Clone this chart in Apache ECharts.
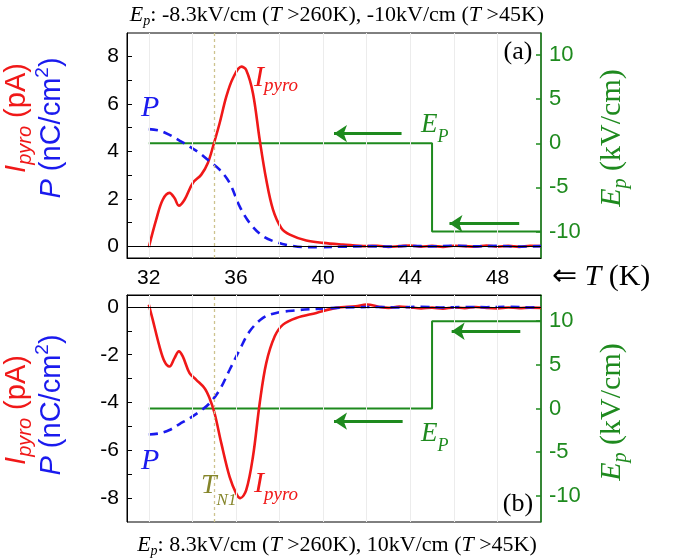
<!DOCTYPE html>
<html><head><meta charset="utf-8">
<script src="https://cdn.jsdelivr.net/npm/echarts@6/dist/echarts.min.js"></script>
<style>html,body{margin:0;padding:0;background:#fff}#c{width:675px;height:559px}</style>
</head><body><div id="c"></div>
<script>
// ---- data ----
const xI_a = [32, 32.34, 32.64, 32.95, 33.18, 33.38, 33.64, 34.02, 34.41, 34.71, 34.97, 35.25, 35.56, 35.86, 36.25, 36.47, 36.78, 37.09, 37.39, 37.7, 38.08, 38.47, 39.23, 40, 40.9, 42, 42.5, 43, 43.5, 44, 44.5, 45, 45.5, 46, 46.5, 47, 47.5, 48, 48.5, 49, 49.5, 50];
const yI_a = [-0.05, 1.12, 1.96, 2.25, 2.03, 1.71, 1.96, 2.67, 3.02, 3.51, 4.28, 5.19, 6.32, 7.09, 7.58, 7.44, 6.46, 4.49, 2.81, 1.54, 0.77, 0.49, 0.24, 0.14, 0.07, 0.0, 0.02, -0.03, 0.0, 0.03, -0.02, 0.01, -0.03, 0.02, 0.0, -0.02, 0.03, -0.02, 0.01, -0.03, 0.02, 0.0];
const xP_a = [32, 32.49, 32.95, 33.41, 33.87, 34.33, 34.79, 35.25, 35.71, 36.17, 36.63, 37.24, 37.85, 38.47, 39.2, 40, 41, 42, 43, 44, 45, 46, 47, 48, 49, 50];
const yP_a = [4.94, 4.88, 4.70, 4.46, 4.21, 3.93, 3.58, 3.23, 2.67, 1.68, 0.98, 0.42, 0.17, 0.03, -0.04, -0.04, -0.02, 0.0, -0.02, 0.01, -0.01, 0.02, -0.01, 0.01, -0.02, 0.0];
const xI_b = [32, 32.18, 32.49, 32.72, 32.95, 33.18, 33.38, 33.56, 33.87, 34.18, 34.56, 34.79, 35.02, 35.33, 35.71, 36.02, 36.2, 36.47, 36.78, 37.09, 37.39, 37.78, 38.16, 38.77, 39.69, 40.6, 41.5, 42, 42.6, 43, 43.5, 44, 44.5, 45, 45.5, 46, 46.5, 47, 47.5, 48, 48.5, 49, 49.5, 50];
const yI_b = [0.1, -0.53, -1.65, -2.28, -2.49, -2.14, -1.86, -2.07, -2.77, -3.05, -3.40, -3.82, -4.45, -5.71, -7.11, -7.82, -8.0, -7.67, -6.27, -4.03, -2.35, -1.23, -0.74, -0.46, -0.25, -0.04, 0.03, 0.1, 0.0, -0.04, 0.02, -0.02, -0.06, -0.03, -0.07, -0.02, -0.05, 0.0, -0.04, -0.06, -0.02, -0.05, -0.03, -0.04];
const xP_b = [32, 32.49, 32.95, 33.41, 33.87, 34.33, 34.79, 35.25, 35.71, 36.17, 36.63, 37.24, 37.85, 38.77, 39.69, 40.6, 41.5, 42.5, 43.5, 44.5, 45.5, 46.5, 47.5, 48.5, 49.5, 50];
const yP_b = [-5.34, -5.29, -5.15, -4.9, -4.66, -4.38, -4.03, -3.47, -2.63, -1.79, -1.02, -0.46, -0.25, -0.14, -0.08, -0.04, -0.01, 0.0, -0.02, 0.01, -0.02, 0.0, -0.01, 0.01, -0.02, 0.0];
const epX = [32, 45, 45, 50];
const epTop = [0, 0, -10, -10];
const epBot = [0, 0, 10, 10];
const tN1 = 35;
// arrows: [tipX, tailX, Ep]
const arrowsTop = [[40.5, 43.6, 1.1], [45.8, 49.0, -9.1]];
const arrowsBot = [[40.5, 43.65, -1.45], [45.9, 49.05, 8.85]];
const xLabels = [32, 36, 40, 44, 48];
const xTicks = [32, 34, 36, 38, 40, 42, 44, 46, 48];
const gridX = [32, 34, 36, 38, 40, 42, 44, 46, 48];
const leftLabTop = [0, 2, 4, 6, 8];
const leftTickTop = [0, 1, 2, 3, 4, 5, 6, 7, 8];
const leftLabBot = [-8, -6, -4, -2, 0];
const leftTickBot = [-8, -7, -6, -5, -4, -3, -2, -1, 0];
const rightLab = [-10, -5, 0, 5, 10];

const RED = '#f01818', BLUE = '#1a1aee', GREEN = '#1e8a1e', OLIVE = '#85852a', TAN = '#cdc38e';
const SANS = '"Liberation Sans", Arial, sans-serif';
const SERIF = '"Liberation Serif", "Times New Roman", serif';

const zip = (xs, ys) => xs.map((x, i) => [x, ys[i]]);

// text layout helper
const mctx = document.createElement('canvas').getContext('2d');
function tw(font, t) { mctx.font = font; return mctx.measureText(t).width; }
function run(parts, x, y, align, rot) {
  const ws = parts.map(p => tw(p.font, p.t));
  const total = ws.reduce((a, b) => a + b, 0);
  let adv = align === 'center' ? -total / 2 : 0;
  const els = [];
  parts.forEach((p, i) => {
    const dy = p.dy || 0;
    els.push({
      type: 'text', silent: true, z: 100,
      x: rot ? x + dy : x + adv,
      y: rot ? y - adv : y + dy,
      rotation: rot ? Math.PI / 2 : 0,
      style: { text: p.t, font: p.font, fill: p.color, align: 'left', verticalAlign: 'middle' }
    });
    adv += ws[i];
  });
  return els;
}
const f = (style, size, fam) => style + ' ' + size + 'px ' + fam;

const graphics = [].concat(
  // titles
  run([
    { t: 'E', font: f('italic', 22, SERIF), color: '#000' },
    { t: 'p', font: f('italic', 14, SERIF), color: '#000', dy: 6 },
    { t: ': -8.3kV/cm (', font: f('normal', 22, SERIF), color: '#000' },
    { t: 'T', font: f('italic', 22, SERIF), color: '#000' },
    { t: ' >260K), -10kV/cm (', font: f('normal', 22, SERIF), color: '#000' },
    { t: 'T', font: f('italic', 22, SERIF), color: '#000' },
    { t: ' >45K)', font: f('normal', 22, SERIF), color: '#000' }
  ], 337, 15, 'center', false),
  run([
    { t: 'E', font: f('italic', 22, SERIF), color: '#000' },
    { t: 'p', font: f('italic', 14, SERIF), color: '#000', dy: 6 },
    { t: ': 8.3kV/cm (', font: f('normal', 22, SERIF), color: '#000' },
    { t: 'T', font: f('italic', 22, SERIF), color: '#000' },
    { t: ' >260K), 10kV/cm (', font: f('normal', 22, SERIF), color: '#000' },
    { t: 'T', font: f('italic', 22, SERIF), color: '#000' },
    { t: ' >45K)', font: f('normal', 22, SERIF), color: '#000' }
  ], 337, 545, 'center', false),
  // panel tags
  run([{ t: '(a)', font: f('normal', 26, SERIF), color: '#000' }], 518, 52, 'center', false),
  run([{ t: '(b)', font: f('normal', 26, SERIF), color: '#000' }], 518, 504, 'center', false),
  // T (K)
  run([
    { t: '\u21D0 ', font: f('normal', 30, SERIF), color: '#000' },
    { t: 'T', font: f('italic', 30, SERIF), color: '#000' },
    { t: ' (K)', font: f('normal', 30, SERIF), color: '#000' }
  ], 552, 277, 'left', false),
  // curve labels top
  run([{ t: 'P', font: f('italic', 30, SERIF), color: BLUE }], 141, 108, 'left', false),
  run([
    { t: 'I', font: f('italic', 30, SERIF), color: RED },
    { t: 'pyro', font: f('italic', 19, SERIF), color: RED, dy: 8 }
  ], 254, 78, 'left', false),
  run([
    { t: 'E', font: f('italic', 27, SERIF), color: GREEN },
    { t: 'P', font: f('italic', 18, SERIF), color: GREEN, dy: 12 }
  ], 421, 125, 'left', false),
  // curve labels bottom
  run([{ t: 'P', font: f('italic', 30, SERIF), color: BLUE }], 141, 461, 'left', false),
  run([
    { t: 'I', font: f('italic', 30, SERIF), color: RED },
    { t: 'pyro', font: f('italic', 19, SERIF), color: RED, dy: 11 }
  ], 254, 484, 'left', false),
  run([
    { t: 'T', font: f('italic', 28, SERIF), color: OLIVE },
    { t: 'N1', font: f('italic', 17, SERIF), color: OLIVE, dy: 15 }
  ], 201, 486, 'left', false),
  run([
    { t: 'E', font: f('italic', 27, SERIF), color: GREEN },
    { t: 'P', font: f('italic', 18, SERIF), color: GREEN, dy: 12 }
  ], 421, 434, 'left', false),
  // left axis names (rotated)
  run([
    { t: 'I', font: f('italic', 29, SANS), color: RED },
    { t: 'pyro', font: f('italic', 20, SANS), color: RED, dy: 8 },
    { t: ' (pA)', font: f('normal', 29, SANS), color: RED }
  ], 17, 118, 'center', true),
  run([
    { t: 'P', font: f('italic', 29, SANS), color: BLUE },
    { t: ' (nC/cm', font: f('normal', 29, SANS), color: BLUE },
    { t: '2', font: f('normal', 19, SANS), color: BLUE, dy: -9 },
    { t: ')', font: f('normal', 29, SANS), color: BLUE }
  ], 52, 128, 'center', true),
  run([
    { t: 'I', font: f('italic', 29, SANS), color: RED },
    { t: 'pyro', font: f('italic', 20, SANS), color: RED, dy: 8 },
    { t: ' (pA)', font: f('normal', 29, SANS), color: RED }
  ], 17, 410, 'center', true),
  run([
    { t: 'P', font: f('italic', 29, SANS), color: BLUE },
    { t: ' (nC/cm', font: f('normal', 29, SANS), color: BLUE },
    { t: '2', font: f('normal', 19, SANS), color: BLUE, dy: -9 },
    { t: ')', font: f('normal', 29, SANS), color: BLUE }
  ], 52, 405, 'center', true),
  // right axis names
  run([
    { t: 'E', font: f('italic', 30, SERIF), color: GREEN },
    { t: 'p', font: f('italic', 20, SERIF), color: GREEN, dy: 9 },
    { t: ' (kV/cm)', font: f('normal', 30, SERIF), color: GREEN }
  ], 612, 138, 'center', true),
  run([
    { t: 'E', font: f('italic', 30, SERIF), color: GREEN },
    { t: 'p', font: f('italic', 20, SERIF), color: GREEN, dy: 9 },
    { t: ' (kV/cm)', font: f('normal', 30, SERIF), color: GREEN }
  ], 612, 412, 'center', true)
);

function xAxisDef(gi, pos, showLabel) {
  return {
    type: 'value', gridIndex: gi, min: 31, max: 50, position: pos,
    axisLine: { show: true, onZero: false, lineStyle: { color: '#000', width: 1 } },
    axisTick: { show: true, inside: true, length: 5, customValues: xTicks, lineStyle: { color: '#000' } },
    axisLabel: { show: showLabel, customValues: xLabels, color: '#000', fontSize: 21, fontFamily: SANS, margin: 10 },
    splitLine: { show: false }
  };
}
function yLeft(gi, min, max, labs, ticks) {
  return {
    type: 'value', gridIndex: gi, min: min, max: max, position: 'left',
    axisLine: { show: true, onZero: false, lineStyle: { color: '#000', width: 1 } },
    axisTick: { show: true, inside: true, length: 5, customValues: ticks, lineStyle: { color: '#000' } },
    axisLabel: { customValues: labs, color: '#000', fontSize: 21, fontFamily: SANS, margin: 8 },
    splitLine: { show: false }
  };
}
function yRight(gi, min, max) {
  return {
    type: 'value', gridIndex: gi, min: min, max: max, position: 'right',
    axisLine: { show: true, onZero: false, lineStyle: { color: GREEN, width: 1.5 } },
    axisTick: { show: true, inside: true, length: 5, customValues: rightLab, lineStyle: { color: GREEN, width: 1.5 } },
    axisLabel: { customValues: rightLab, color: GREEN, fontSize: 22, fontFamily: SANS, margin: 8 },
    splitLine: { show: false }
  };
}
function helper(gi, yi) {
  return {
    type: 'line', xAxisIndex: gi, yAxisIndex: yi, data: [[40, 0]], symbol: 'none', silent: true, z: 1,
    lineStyle: { opacity: 0 },
    markLine: {
      symbol: 'none', silent: true, label: { show: false }, animation: false,
      data: gridX.map(v => ({ xAxis: v, lineStyle: { color: '#ececec', width: 1, type: 'solid' } }))
        .concat([{ yAxis: 0, lineStyle: { color: '#000', width: 1.2, type: 'solid' } },
                 { xAxis: tN1, lineStyle: { color: TAN, width: 1.3, type: [3, 3] } }])
    }
  };
}
function green(gi, yi, ys, arrows) {
  return {
    type: 'line', xAxisIndex: gi, yAxisIndex: yi, data: zip(epX, ys), symbol: 'none', z: 2,
    lineStyle: { color: GREEN, width: 2 },
    markLine: {
      symbol: ['arrow', 'none'], symbolSize: 13, silent: true, label: { show: false }, animation: false,
      lineStyle: { color: GREEN, width: 3, type: 'solid' },
      data: arrows.map(a => [{ coord: [a[0], a[2]] }, { coord: [a[1], a[2]] }])
    }
  };
}
function curve(gi, yi, xs, ys, color, dashed, z) {
  return {
    type: 'line', xAxisIndex: gi, yAxisIndex: yi, data: zip(xs, ys), symbol: 'none', smooth: 0.35, z: z,
    lineStyle: { color: color, width: 2.6, type: dashed ? [9, 6] : 'solid' }
  };
}

const option = {
  animation: false,
  backgroundColor: '#fff',
  grid: [
    { left: 127, top: 33, width: 414, height: 225, show: true, borderColor: '#000', borderWidth: 1, backgroundColor: 'transparent' },
    { left: 127, top: 295, width: 414, height: 227, show: true, borderColor: '#000', borderWidth: 1, backgroundColor: 'transparent' }
  ],
  xAxis: [xAxisDef(0, 'bottom', true), xAxisDef(1, 'top', false)],
  yAxis: [yLeft(0, -0.5, 9, leftLabTop, leftTickTop), yRight(0, -13, 12.5),
          yLeft(1, -9, 0.5, leftLabBot, leftTickBot), yRight(1, -13, 13)],
  series: [
    helper(0, 0), helper(1, 2),
    green(0, 1, epTop, arrowsTop), green(1, 3, epBot, arrowsBot),
    curve(0, 0, xI_a, yI_a, RED, false, 3), curve(0, 0, xP_a, yP_a, BLUE, true, 4),
    curve(1, 2, xI_b, yI_b, RED, false, 3), curve(1, 2, xP_b, yP_b, BLUE, true, 4)
  ],
  graphic: graphics
};
const chart = echarts.init(document.getElementById('c'), null, { renderer: 'canvas' });
chart.setOption(option);
</script></body></html>
